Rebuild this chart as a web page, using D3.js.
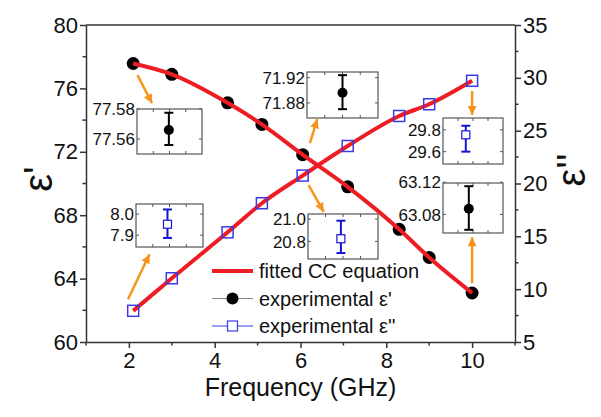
<!DOCTYPE html>
<html>
<head>
<meta charset="utf-8">
<script src="https://cdn.jsdelivr.net/npm/d3@7"></script>
<style>
  body { margin: 0; background: #fff; }
  text { font-family: "Liberation Sans", Arial, sans-serif; fill: #111; }
</style>
</head>
<body>
<div id="container"></div>
<script>
/* DATA */
const freq = [2.1, 3.0, 4.3, 5.1, 6.05, 7.1, 8.3, 9.0, 10.0];
const epsReal = [77.57, 76.89, 75.09, 73.73, 71.82, 69.79, 67.11, 65.33, 63.09];
const epsImag = [7.95, 11.03, 15.38, 18.13, 20.75, 23.55, 26.39, 27.50, 29.72];

const xTicks = [2, 4, 6, 8, 10];
const yLeftTicks = [60, 64, 68, 72, 76, 80];
const yRightTicks = [5, 10, 15, 20, 25, 30, 35];

// zoomed insets (one point each with error bar)
const insetSeries = ["real", "real", "imag", "imag", "imag", "real"];
const insetValue = [77.566, 71.896, 29.754, 7.952, 20.824, 63.087];
const insetLow = [77.556, 71.870, 29.600, 7.887, 20.696, 63.061];
const insetHigh = [77.5775, 71.924, 29.837, 8.022, 20.985, 63.115];
const insetTickLabels = [["77.58", "77.56"], ["71.92", "71.88"], ["29.8", "29.6"],
                         ["8.0", "7.9"], ["21.0", "20.8"], ["63.12", "63.08"]];
const insetDomain = [[77.550, 77.580], [71.856, 71.929], [29.487, 29.908],
                     [7.844, 8.048], [20.643, 21.045], [63.057, 63.119]];

// arrows from points to insets, in (GHz, ε') units
const arrowFrom = [[2.20, 76.84], [6.22, 72.55], [10.0, 75.83], [1.98, 62.70], [6.19, 69.90], [10.0, 63.71]];
const arrowTo = [[2.54, 75.06], [6.39, 74.06], [10.0, 74.32], [2.48, 65.54], [6.54, 68.21], [10.0, 66.61]];

/* LAYOUT */
const width = 601, height = 417;
const margin = { top: 25, right: 86, bottom: 75, left: 86 };
const insetBoxes = [
  { x: 137, y: 109, w: 65, h: 45, px: 0.49 },
  { x: 307, y: 72, w: 71, h: 46, px: 0.50 },
  { x: 443, y: 118, w: 60, h: 46, px: 0.38 },
  { x: 136, y: 204, w: 67, h: 43, px: 0.47 },
  { x: 308, y: 214, w: 70, h: 45, px: 0.47 },
  { x: 443, y: 183, w: 60, h: 50, px: 0.43 }
];

const RED = "#ee1d23", BLUE = "#3a3ae6", DBLUE = "#1414d8", ORANGE = "#f7941e", AXIS = "#333";

const svg = d3.select("#container")
  .append("svg")
  .attr("width", width)
  .attr("height", height);

const x = d3.scaleLinear().domain([1, 11]).range([margin.left, width - margin.right]);
const yL = d3.scaleLinear().domain([60, 80]).range([height - margin.bottom, margin.top]);
const yR = d3.scaleLinear().domain([5, 35]).range([height - margin.bottom, margin.top]);

/* AXES */
function styleAxis(g) {
  g.select(".domain").attr("stroke", AXIS).attr("stroke-width", 1.5);
  g.selectAll(".tick line").attr("stroke", AXIS).attr("stroke-width", 1.5);
  g.selectAll(".tick text").attr("font-size", 22).attr("fill", "#111")
    .style("font-family", "Liberation Sans, Arial, sans-serif");
}

// minor ticks
const minor = svg.append("g").attr("stroke", AXIS).attr("stroke-width", 1.5);
d3.range(1, 12, 2).forEach(v => minor.append("line")
  .attr("x1", x(v)).attr("x2", x(v)).attr("y1", yL(60)).attr("y2", yL(60) + 3.5));
d3.range(62, 80, 4).forEach(v => minor.append("line")
  .attr("x1", x(1)).attr("x2", x(1) - 3.5).attr("y1", yL(v)).attr("y2", yL(v)));
d3.range(7.5, 35, 5).forEach(v => minor.append("line")
  .attr("x1", x(11)).attr("x2", x(11) + 3.5).attr("y1", yR(v)).attr("y2", yR(v)));

svg.append("g")
  .attr("transform", `translate(0,${yL(60)})`)
  .call(d3.axisBottom(x).tickValues(xTicks).tickSize(6).tickPadding(4).tickSizeOuter(0))
  .call(styleAxis);

svg.append("g")
  .attr("transform", `translate(${x(1)},0)`)
  .call(d3.axisLeft(yL).tickValues(yLeftTicks).tickSize(6).tickPadding(2).tickSizeOuter(0))
  .call(styleAxis);

svg.append("g")
  .attr("transform", `translate(${x(11)},0)`)
  .call(d3.axisRight(yR).tickValues(yRightTicks).tickSize(6).tickPadding(2).tickSizeOuter(0))
  .call(styleAxis);

// top frame line
svg.append("line")
  .attr("x1", x(1)).attr("x2", x(11)).attr("y1", yL(80)).attr("y2", yL(80))
  .attr("stroke", AXIS).attr("stroke-width", 1.5);

// axis titles
svg.append("text")
  .attr("x", (x(1) + x(11)) / 2).attr("y", 396)
  .attr("text-anchor", "middle").attr("font-size", 25)
  .text("Frequency (GHz)");

svg.append("text")
  .attr("transform", "translate(52,179) rotate(-90)")
  .attr("text-anchor", "middle").attr("font-size", 40)
  .text("ε'");

svg.append("text")
  .attr("transform", "translate(585,170) rotate(-90)")
  .attr("text-anchor", "middle").attr("font-size", 40)
  .text("ε''");

/* DATA MARKS */
const realPts = freq.map((f, i) => [f, epsReal[i]]);
const imagPts = freq.map((f, i) => [f, epsImag[i]]);

svg.selectAll(".dot")
  .data(realPts)
  .enter()
  .append("circle")
  .attr("class", "dot")
  .attr("cx", d => x(d[0]))
  .attr("cy", d => yL(d[1]))
  .attr("r", 6.5)
  .attr("fill", "#000");

// fitted CC curves
const lineL = d3.line().x(d => x(d[0])).y(d => yL(d[1])).curve(d3.curveMonotoneX);
const lineR = d3.line().x(d => x(d[0])).y(d => yR(d[1])).curve(d3.curveMonotoneX);
svg.append("path").attr("d", lineL(realPts))
  .attr("fill", "none").attr("stroke", RED).attr("stroke-width", 4);
svg.append("path").attr("d", lineR(imagPts))
  .attr("fill", "none").attr("stroke", RED).attr("stroke-width", 4);

svg.selectAll(".sq")
  .data(imagPts)
  .enter()
  .append("rect")
  .attr("class", "sq")
  .attr("x", d => x(d[0]) - 5.5)
  .attr("y", d => yR(d[1]) - 5.5)
  .attr("width", 11).attr("height", 11)
  .attr("fill", "none")
  .attr("stroke", BLUE).attr("stroke-width", 1.5);

/* ARROWS */
const defs = svg.append("defs");
defs.append("marker")
  .attr("id", "head")
  .attr("markerUnits", "userSpaceOnUse")
  .attr("viewBox", "0 0 10 10")
  .attr("refX", 10).attr("refY", 5)
  .attr("markerWidth", 10).attr("markerHeight", 9)
  .attr("orient", "auto")
  .append("path").attr("d", "M0,0 L10,5 L0,10 Z").attr("fill", ORANGE);

svg.selectAll(".arrow")
  .data(arrowFrom)
  .enter()
  .append("line")
  .attr("class", "arrow")
  .attr("x1", d => x(d[0])).attr("y1", d => yL(d[1]))
  .attr("x2", (d, i) => x(arrowTo[i][0])).attr("y2", (d, i) => yL(arrowTo[i][1]))
  .attr("stroke", ORANGE).attr("stroke-width", 2.5)
  .attr("marker-end", "url(#head)");

/* INSETS */
insetBoxes.forEach((b, i) => {
  const g = svg.append("g");
  const iy = d3.scaleLinear().domain(insetDomain[i]).range([b.y + b.h, b.y]);
  const ix = b.x + b.px * b.w;
  const col = insetSeries[i] === "real" ? "#000" : DBLUE;

  g.append("rect")
    .attr("x", b.x).attr("y", b.y).attr("width", b.w).attr("height", b.h)
    .attr("fill", "#fff").attr("stroke", "#555").attr("stroke-width", 1.2);

  // frame ticks
  [0.25, 0.5, 0.75].forEach(t => {
    const tx = b.x + t * b.w;
    g.append("line").attr("x1", tx).attr("x2", tx).attr("y1", b.y + b.h).attr("y2", b.y + b.h - 3)
      .attr("stroke", "#555");
    g.append("line").attr("x1", tx).attr("x2", tx).attr("y1", b.y).attr("y2", b.y + 3)
      .attr("stroke", "#555");
  });

  insetTickLabels[i].forEach(lbl => {
    const ty = iy(+lbl);
    g.append("line").attr("x1", b.x).attr("x2", b.x + 3).attr("y1", ty).attr("y2", ty).attr("stroke", "#555");
    g.append("line").attr("x1", b.x + b.w).attr("x2", b.x + b.w - 3).attr("y1", ty).attr("y2", ty).attr("stroke", "#555");
    g.append("text")
      .attr("x", b.x - 2).attr("y", ty)
      .attr("dy", "0.36em")
      .attr("text-anchor", "end").attr("font-size", 17)
      .text(lbl);
  });

  // error bar
  g.append("line").attr("x1", ix).attr("x2", ix)
    .attr("y1", iy(insetLow[i])).attr("y2", iy(insetHigh[i]))
    .attr("stroke", col).attr("stroke-width", 2);
  [insetLow[i], insetHigh[i]].forEach(v => g.append("line")
    .attr("x1", ix - 4.5).attr("x2", ix + 4.5).attr("y1", iy(v)).attr("y2", iy(v))
    .attr("stroke", col).attr("stroke-width", 2));

  if (insetSeries[i] === "real") {
    g.append("circle").attr("cx", ix).attr("cy", iy(insetValue[i])).attr("r", 5).attr("fill", "#000");
  } else {
    g.append("rect").attr("x", ix - 4).attr("y", iy(insetValue[i]) - 4)
      .attr("width", 8).attr("height", 8)
      .attr("fill", "#fff").attr("stroke", DBLUE).attr("stroke-width", 1.2);
  }
});

/* LEGEND */
const legendRows = [
  { label: "fitted CC equation", type: "fit" },
  { label: "experimental ε'", type: "real" },
  { label: "experimental ε''", type: "imag" }
];
const legend = svg.append("g").attr("transform", "translate(212,271)");
legendRows.forEach((r, i) => {
  const row = legend.append("g").attr("transform", `translate(0,${i * 27.5})`);
  if (r.type === "fit") {
    row.append("line").attr("x1", 0).attr("x2", 41).attr("stroke", RED).attr("stroke-width", 4);
  } else if (r.type === "real") {
    row.append("line").attr("x1", 0).attr("x2", 41).attr("stroke", "#888").attr("stroke-width", 1.2);
    row.append("circle").attr("cx", 20.5).attr("r", 6).attr("fill", "#000");
  } else {
    row.append("line").attr("x1", 0).attr("x2", 41).attr("stroke", BLUE).attr("stroke-width", 1.2);
    row.append("rect").attr("x", 15.5).attr("y", -5).attr("width", 10).attr("height", 10)
      .attr("fill", "#fff").attr("stroke", BLUE).attr("stroke-width", 1.2);
  }
  row.append("text").attr("x", 47).attr("dy", "0.35em").attr("font-size", 20).text(r.label);
});
</script>
</body>
</html>
